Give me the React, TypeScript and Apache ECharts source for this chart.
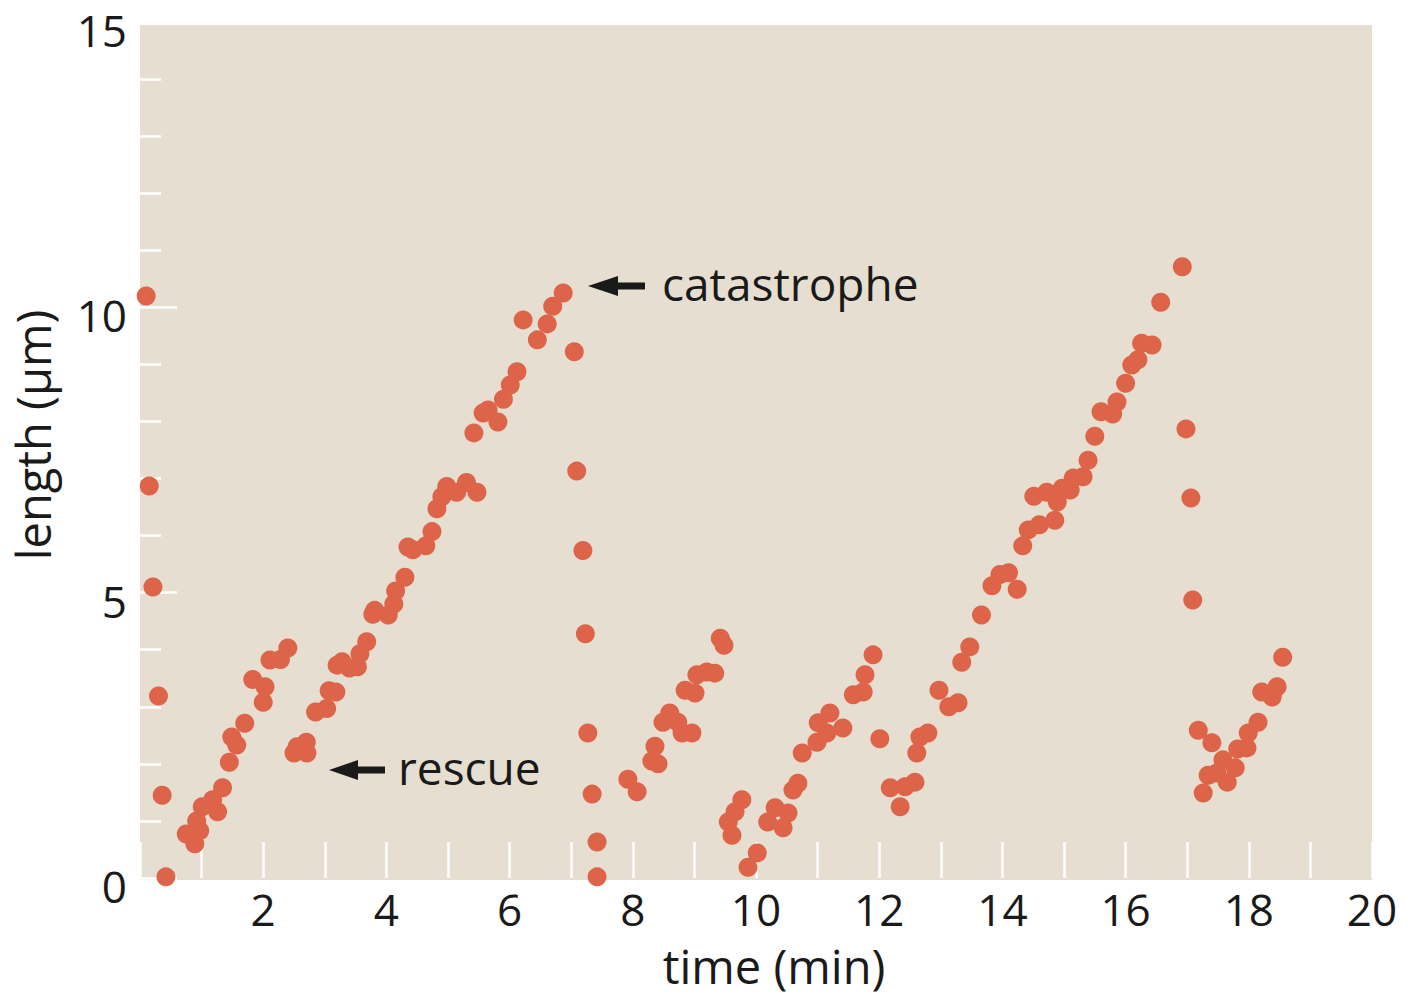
import React, { useEffect, useRef } from "react";
import * as echarts from "echarts";

// time (min)
const timeMin: number[] = [
  0.1, 0.15, 0.21, 0.3, 0.36, 0.42,
  0.75, 0.89, 0.92, 0.97, 1.01, 1.18, 1.26, 1.34, 1.45, 1.49, 1.57, 1.7, 1.83, 2.03, 2.0, 2.11, 2.28, 2.4,
  2.5, 2.55, 2.7, 2.71,
  2.85, 3.03, 3.07, 3.18, 3.2, 3.28, 3.4, 3.53, 3.57, 3.68, 3.78, 3.81, 4.03, 4.12, 4.15, 4.3, 4.35, 4.43,
  4.64, 4.74, 4.82, 4.9, 4.98, 5.14, 5.3, 5.47, 5.42, 5.57, 5.65, 5.81, 5.9, 6.01, 6.12, 6.22, 6.45, 6.61,
  6.7, 6.87,
  7.05, 7.09, 7.19, 7.23, 7.27, 7.34, 7.42, 7.42,
  7.92, 8.07, 8.31, 8.41, 8.36, 8.49, 8.6, 8.73, 8.8, 8.96, 8.85, 9.01, 9.04, 9.2, 9.33, 9.42, 9.48,
  9.55, 9.61, 9.66, 9.77, 9.87, 10.02, 10.19, 10.31, 10.44, 10.52, 10.6, 10.68, 10.75, 10.99, 11.01, 11.15,
  11.2, 11.41, 11.58, 11.74, 11.77, 11.9,
  12.01, 12.18, 12.34, 12.42, 12.58, 12.61, 12.66, 12.79, 12.97, 13.13, 13.28, 13.34, 13.47, 13.66, 13.83,
  13.96, 14.1, 14.24, 14.33, 14.42, 14.51, 14.6, 14.72, 14.85, 14.89, 14.97, 15.1, 15.15, 15.31, 15.39,
  15.5, 15.6, 15.79, 15.86, 16.0, 16.1, 16.2, 16.26, 16.43, 16.57, 16.92,
  16.98, 17.06, 17.09,
  17.18, 17.26, 17.34, 17.4, 17.48, 17.58, 17.65, 17.78, 17.82, 17.97, 17.99, 18.15, 18.21, 18.38, 18.46,
  18.55,
];

// length (µm)
const lengthUm: number[] = [
  10.2, 6.87, 5.1, 3.19, 1.45, 0.02,
  0.77, 0.6, 1.0, 0.83, 1.25, 1.37, 1.16, 1.58, 2.03, 2.47, 2.33, 2.71, 3.48, 3.35, 3.08, 3.82, 3.83, 4.03,
  2.19, 2.3, 2.38, 2.19,
  2.91, 2.97, 3.28, 3.26, 3.73, 3.79, 3.68, 3.7, 3.93, 4.14, 4.62, 4.69, 4.61, 4.8, 5.03, 5.27, 5.8, 5.75,
  5.82, 6.07, 6.47, 6.68, 6.86, 6.76, 6.93, 6.76, 7.8, 8.15, 8.2, 7.99, 8.39, 8.64, 8.87, 9.78, 9.43, 9.71,
  10.02, 10.25,
  9.22, 7.13, 5.74, 4.28, 2.54, 1.47, 0.63, 0.02,
  1.73, 1.51, 2.05, 2.0, 2.31, 2.73, 2.89, 2.73, 2.54, 2.54, 3.29, 3.24, 3.56, 3.61, 3.59, 4.2, 4.08,
  0.98, 0.75, 1.16, 1.37, 0.19, 0.44, 0.98, 1.23, 0.88, 1.14, 1.54, 1.66, 2.19, 2.38, 2.72, 2.54,
  2.89, 2.63, 3.21, 3.26, 3.56, 3.91,
  2.44, 1.58, 1.25, 1.6, 1.68, 2.19, 2.47, 2.54, 3.29, 3.0, 3.07, 3.78, 4.05, 4.61, 5.12,
  5.32, 5.35, 5.06, 5.82, 6.1, 6.69, 6.19, 6.76, 6.27, 6.59, 6.83, 6.8, 7.01, 7.03, 7.32,
  7.74, 8.17, 8.13, 8.34, 8.67, 8.99, 9.08, 9.37, 9.34, 10.09, 10.71,
  7.87, 6.66, 4.87,
  2.59, 1.49, 1.8, 2.37, 1.84, 2.07, 1.68, 1.93, 2.26, 2.28, 2.54, 2.73, 3.26, 3.17, 3.35,
  3.87,
];

const xLabelValues: number[] = [2, 4, 6, 8, 10, 12, 14, 16, 18, 20];
const yLabelValues: number[] = [0, 5, 10, 15];

const FONT = "'Open Sans', 'DejaVu Sans', sans-serif";
const TEXT = "#1a1a1a";
const DOT = "#DE6449";
const BG = "#E6DFD1";

export default function App() {
  const ref = useRef<HTMLDivElement>(null);

  useEffect(() => {
    if (!ref.current) return;
    const chart = echarts.init(ref.current, undefined, { renderer: "svg" });
    const data = timeMin.map((t, i) => [t, lengthUm[i]]);

    chart.setOption({
      animation: false,
      grid: {
        left: 140,
        right: 36,
        top: 22,
        bottom: 119,
        show: false,
        containLabel: false,
        outerBoundsMode: "none",
      },
      xAxis: {
        type: "value",
        min: 0,
        max: 20,
        interval: 1,
        axisLine: { show: false },
        splitLine: { show: false },
        axisTick: { show: true, inside: true, length: 36, lineStyle: { color: "#ffffff", width: 2.5 } },
        axisLabel: {
          formatter: (v: number) => (xLabelValues.includes(v) ? String(v) : ""),
          fontSize: 44,
          color: TEXT,
          fontFamily: FONT,
          margin: 9,
        },
        name: "time (min)",
        nameLocation: "middle",
        nameGap: 64,
        nameTextStyle: { fontSize: 47, color: TEXT, fontFamily: FONT, padding: [0, 0, 0, 36] },
      },
      yAxis: {
        type: "value",
        min: 0,
        max: 15,
        interval: 5,
        axisLine: { show: false },
        splitLine: { show: false },
        axisTick: { show: true, inside: true, length: 37, lineStyle: { color: "#ffffff", width: 2.5 } },
        minorTick: { show: true, splitNumber: 5, length: 21, lineStyle: { color: "#ffffff", width: 2.5 } },
        minorSplitLine: { show: false },
        axisLabel: {
          formatter: (v: number) => (yLabelValues.includes(v) ? `{v|${v}}` : ""),
          color: TEXT,
          margin: 13,
          rich: {
            v: { fontSize: 44, lineHeight: 30, fontFamily: FONT, color: TEXT, padding: [16, 0, 0, 0] },
          },
        },
        name: "length (μm)",
        nameLocation: "middle",
        nameGap: 84,
        nameRotate: 90,
        nameTextStyle: { fontSize: 47, color: TEXT, fontFamily: FONT, padding: [0, 0, 0, 30] },
      },
      series: [
        {
          type: "scatter",
          data,
          symbol: "circle",
          symbolSize: 19,
          itemStyle: { color: DOT, opacity: 1 },
          z: 3,
        },
      ],
      graphic: [
        // plot background panel
        { type: "rect", shape: { x: 140, y: 25, width: 1232, height: 855 }, style: { fill: BG }, z: -10, silent: true },
        // catastrophe arrow + label
        { type: "polygon", shape: { points: [[588, 286], [618, 276], [618, 296]] }, style: { fill: TEXT }, z: 10 },
        { type: "line", shape: { x1: 612, y1: 286, x2: 645, y2: 286 }, style: { stroke: TEXT, lineWidth: 7 }, z: 10 },
        {
          type: "text",
          x: 662,
          y: 283,
          style: { text: "catastrophe", fontSize: 46, fontFamily: FONT, fill: TEXT, verticalAlign: "middle", align: "left" },
          z: 10,
        },
        // rescue arrow + label
        { type: "polygon", shape: { points: [[329, 770], [358, 760], [358, 780]] }, style: { fill: TEXT }, z: 10 },
        { type: "line", shape: { x1: 352, y1: 770, x2: 385, y2: 770 }, style: { stroke: TEXT, lineWidth: 7 }, z: 10 },
        {
          type: "text",
          x: 398,
          y: 767,
          style: { text: "rescue", fontSize: 46, fontFamily: FONT, fill: TEXT, verticalAlign: "middle", align: "left" },
          z: 10,
        },
      ],
    });

    return () => chart.dispose();
  }, []);

  return (
    <div
      ref={ref}
      style={{ position: "absolute", left: 0, top: 0, width: 1408, height: 997, background: "#ffffff" }}
    />
  );
}
